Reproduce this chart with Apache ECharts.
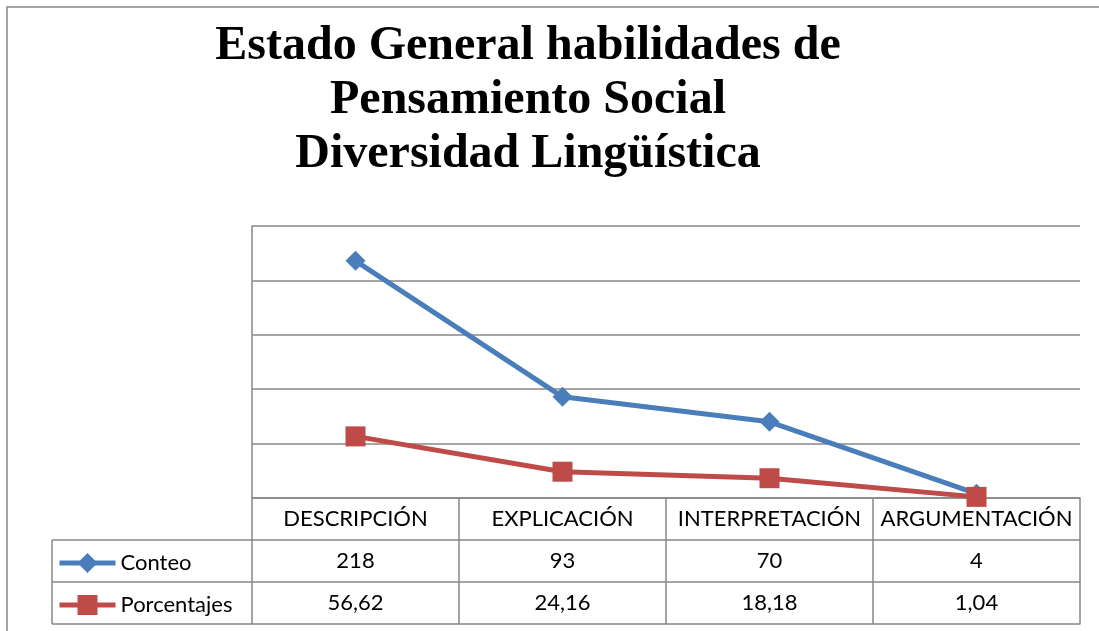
<!DOCTYPE html>
<html>
<head>
<meta charset="utf-8">
<script src="https://cdn.jsdelivr.net/npm/echarts@6/dist/echarts.min.js"></script>
<style>
html,body{margin:0;padding:0;background:#fff;}
#c{width:1099px;height:631px;}
</style>
</head>
<body>
<div id="c"></div>
<script>
var categories = ['DESCRIPCIÓN', 'EXPLICACIÓN', 'INTERPRETACIÓN', 'ARGUMENTACIÓN'];
var conteo = [218, 93, 70, 4];
var porcentajes = [56.62, 24.16, 18.18, 1.04];
var seriesNames = ['Conteo', 'Porcentajes'];
var yTicks = [0, 50, 100, 150, 200, 250];

function fmt(v) { return String(v).replace('.', ','); }

var GRID = '#878787';
var tableFont = 'Lato';
var rowH = 42;

var chart = echarts.init(document.getElementById('c'), null, {renderer: 'canvas'});

function tableAxis(data, offset, showLabel) {
  return {
    type: 'category',
    position: 'bottom',
    offset: offset,
    data: data,
    boundaryGap: true,
    axisLine: {show: true, lineStyle: {color: GRID, width: 1.5}},
    axisTick: {show: showLabel, length: rowH, interval: 0, lineStyle: {color: GRID, width: 1.5}},
    axisLabel: {show: showLabel, interval: 0, margin: 10, color: '#000', fontFamily: tableFont, fontSize: 22, lineHeight: 22},
    splitLine: {show: false}
  };
}

var option = {
  backgroundColor: '#fff',
  animation: false,
  title: {
    text: 'Estado General habilidades de\nPensamiento Social\nDiversidad Lingüística',
    left: 523,
    top: 15,
    textAlign: 'center',
    textVerticalAlign: 'top',
    textStyle: {fontFamily: 'Liberation Serif', fontWeight: 'bold', fontSize: 48, lineHeight: 54, color: '#000'}
  },
  legend: {
    orient: 'vertical',
    left: 57,
    top: 550.5,
    padding: 0,
    itemWidth: 56,
    itemHeight: 25,
    itemGap: 17,
    itemTextGap: 3,
    lineStyle: {width: 5},
    textStyle: {fontFamily: tableFont, fontSize: 22, lineHeight: 25, color: '#000'},
    data: seriesNames
  },
  grid: {left: 252, right: 19, top: 226, bottom: 133, containLabel: false},
  xAxis: [
    tableAxis(categories, 0, true),
    tableAxis(conteo.map(String), rowH, true),
    tableAxis(porcentajes.map(fmt), rowH * 2, true),
    tableAxis(categories.map(function(){return '';}), rowH * 3, false)
  ],
  yAxis: {
    type: 'value',
    min: yTicks[0],
    max: yTicks[yTicks.length - 1],
    interval: yTicks[1] - yTicks[0],
    axisLabel: {show: false},
    axisTick: {show: false},
    axisLine: {show: true, lineStyle: {color: GRID, width: 1.5}},
    splitLine: {show: true, lineStyle: {color: GRID, width: 1.5}}
  },
  series: [
    {
      name: seriesNames[0], type: 'line', xAxisIndex: 0, data: conteo,
      symbol: 'diamond', symbolSize: 20,
      lineStyle: {color: '#4A7EBB', width: 5},
      itemStyle: {color: '#4A7EBB'}
    },
    {
      name: seriesNames[1], type: 'line', xAxisIndex: 0, data: porcentajes,
      symbol: 'rect', symbolSize: 20,
      lineStyle: {color: '#BE4B48', width: 5},
      itemStyle: {color: '#BE4B48'}
    }
  ]
};
chart.setOption(option);

// Table border for the legend column, derived from the grid/axis positions
var x0 = chart.convertToPixel({xAxisIndex: 0}, categories[0]);
var x1 = chart.convertToPixel({xAxisIndex: 0}, categories[1]);
var leftEdge = x0 - (x1 - x0) / 2;
var yBase = chart.convertToPixel({yAxisIndex: 0}, 0);
var legendLeft = 52;
var lineStyle = {stroke: GRID, lineWidth: 1.5};
chart.setOption({
  graphic: [
    {type: 'rect', shape: {x: 7, y: 7, width: 1200, height: 800}, style: {fill: 'none', stroke: GRID, lineWidth: 1.5}, silent: true},
    {type: 'line', shape: {x1: legendLeft, y1: yBase + rowH, x2: leftEdge, y2: yBase + rowH}, style: lineStyle, silent: true},
    {type: 'line', shape: {x1: legendLeft, y1: yBase + rowH * 2, x2: leftEdge, y2: yBase + rowH * 2}, style: lineStyle, silent: true},
    {type: 'line', shape: {x1: legendLeft, y1: yBase + rowH * 3, x2: leftEdge, y2: yBase + rowH * 3}, style: lineStyle, silent: true},
    {type: 'line', shape: {x1: legendLeft, y1: yBase + rowH, x2: legendLeft, y2: yBase + rowH * 3}, style: lineStyle, silent: true}
  ]
});
</script>
</body>
</html>
